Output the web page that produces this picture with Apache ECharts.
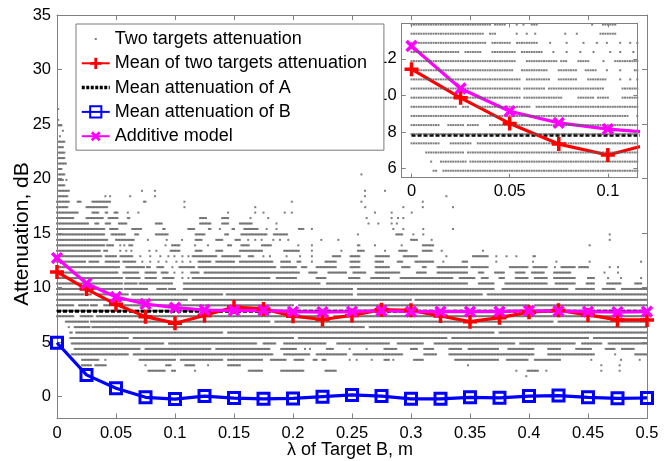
<!DOCTYPE html>
<html><head><meta charset="utf-8">
<script src="https://cdn.jsdelivr.net/npm/echarts@6/dist/echarts.min.js"></script>
<style>html,body{margin:0;padding:0;background:#fff}#c{width:670px;height:461px}</style>
</head><body><div id="c"></div>
<script>
// ---------- data ----------
const lambdaB = [0,0.025,0.05,0.075,0.1,0.125,0.15,0.175,0.2,0.225,0.25,0.275,0.3,0.325,0.35,0.375,0.4,0.425,0.45,0.475,0.5];
const meanTwo = [11.44,9.87,8.47,7.34,6.74,7.45,8.22,8.05,7.38,7.08,7.45,7.98,7.92,7.40,6.88,7.25,7.75,7.92,7.50,7.04,7.04];
const meanAttA = 7.83;
const meanB = [4.95,2.0,0.77,-0.06,-0.22,0.06,-0.13,-0.2,-0.16,0.0,0.16,0.06,-0.2,-0.2,-0.06,-0.1,0.06,0.1,-0.06,-0.15,-0.12];
const additive = [12.71,10.38,9.14,8.50,8.16,7.95,7.90,7.92,7.80,7.76,7.80,7.88,7.80,7.80,7.80,7.80,7.88,7.85,7.80,7.76,7.80];

const xTicks = [0,0.05,0.1,0.15,0.2,0.25,0.3,0.35,0.4,0.45,0.5];
const yTicks = [0,5,10,15,20,25,30,35];
const insetXTicks = [0,0.05,0.1];
const insetYTicks = [6,8,10,12];

// scatter: attenuation levels (dB) and runs of λ [start,end, start,end, ...] where dots appear
const dotLevels = [26.38,25.38,24.88,24.38,23.88,23.38,22.88,22.38,21.88,21.38,20.88,20.38,19.88,19.38,18.88,18.38,17.88,17.38,16.88,16.38,15.88,15.38,14.88,14.38,13.88,13.38,12.88,12.38,11.88,11.38,10.88,10.38,9.88,9.38,8.88,8.38,7.88,7.38,6.88,6.38,5.88,5.38,4.88,4.38,3.88,3.38,2.88,2.38,1.88];
const dotRuns = [
 [0.001,0.001],
 [0.001,0.001],
 [0.001,0.004],
 [0.005,0.005],
 [0.0025,0.0025],
 [0.001,0.007],
 [0.001,0.005],
 [0.001,0.007],
 [0.001,0.007],
 [0.001,0.008],
 [0.001,0.004],
 [0.001,0.007, 0.258,0.258],
 [0.001,0.005, 0.008,0.008],
 [0.001,0.007],
 [0.001,0.011, 0.072,0.072, 0.083,0.083, 0.261,0.261, 0.278,0.278],
 [0.001,0.009, 0.041,0.041, 0.045,0.045, 0.062,0.062, 0.083,0.083, 0.261,0.261, 0.33,0.33],
 [0,0.011, 0.0167,0.021, 0.029,0.045, 0.073,0.075, 0.108,0.108, 0.199,0.199, 0.258,0.258, 0.31,0.31],
 [0,0.0096, 0.025,0.0435, 0.108,0.108, 0.168,0.168, 0.261,0.2624, 0.2935,0.2935, 0.31,0.31, 0.3356,0.3356],
 [0,0.018, 0.029,0.035, 0.041,0.0435, 0.048,0.052, 0.06,0.06, 0.069,0.069, 0.145,0.145, 0.168,0.168, 0.175,0.175, 0.193,0.193, 0.199,0.199, 0.2695,0.2695, 0.2836,0.2836, 0.3006,0.3006],
 [0,0.014, 0.025,0.039, 0.0435,0.052, 0.06,0.062, 0.121,0.127, 0.14,0.145, 0.164,0.164, 0.179,0.179, 0.2624,0.2624, 0.2836,0.2836, 0.289,0.289, 0.2935,0.2935],
 [0,0.0266, 0.032,0.036, 0.041,0.046, 0.052,0.059, 0.083,0.089, 0.121,0.13, 0.14,0.145, 0.155,0.165, 0.186,0.186, 0.264,0.264, 0.2723,0.2723, 0.2836,0.2836, 0.288,0.288],
 [0,0.041, 0.045,0.052, 0.063,0.072, 0.089,0.092, 0.111,0.117, 0.128,0.131, 0.138,0.138, 0.148,0.151, 0.158,0.1706, 0.1777,0.1777, 0.186,0.186, 0.2045,0.209, 0.216,0.216, 0.285,0.285, 0.2935,0.2935, 0.3104,0.3104, 0.3356,0.3356],
 [0,0.041, 0.046,0.058, 0.066,0.069, 0.083,0.094, 0.117,0.125, 0.142,0.145, 0.156,0.1777, 0.1833,0.196, 0.255,0.255, 0.2864,0.2935, 0.302,0.302, 0.3104,0.3104, 0.4684,0.4684],
 [0,0.0435, 0.049,0.066, 0.077,0.077, 0.093,0.093, 0.106,0.106, 0.117,0.123, 0.134,0.14, 0.151,0.156, 0.162,0.162, 0.168,0.168, 0.1734,0.1734, 0.1833,0.1833, 0.189,0.189, 0.196,0.196, 0.224,0.224, 0.2384,0.2384, 0.299,0.305, 0.3175,0.3175, 0.4684,0.4684],
 [0,0.04, 0.0425,0.0485, 0.0536,0.0536, 0.057,0.057, 0.061,0.064, 0.092,0.092, 0.097,0.104, 0.117,0.117, 0.128,0.128, 0.144,0.148, 0.156,0.1636, 0.1734,0.182, 0.2045,0.2045, 0.216,0.216, 0.254,0.257, 0.2695,0.2695, 0.2921,0.2921, 0.309,0.319, 0.4514,0.4514],
 [0,0.0374, 0.04,0.0434, 0.0536,0.0536, 0.0587,0.0587, 0.063,0.063, 0.0783,0.0783, 0.0842,0.0842, 0.096,0.104, 0.117,0.123, 0.134,0.14, 0.154,0.1749, 0.192,0.206, 0.216,0.216, 0.241,0.241, 0.254,0.261, 0.278,0.278, 0.289,0.2963, 0.309,0.3175, 0.326,0.326, 0.361,0.361],
 [0,0.0383, 0.041,0.05, 0.053,0.064, 0.0706,0.0706, 0.079,0.079, 0.0876,0.0876, 0.0944,0.0944, 0.0995,0.0995, 0.1063,0.1063, 0.1114,0.1114, 0.115,0.135, 0.14,0.156, 0.162,0.1664, 0.1749,0.1749, 0.1805,0.1805, 0.1946,0.1946, 0.206,0.206, 0.216,0.216, 0.233,0.24, 0.248,0.257, 0.2695,0.2822, 0.2935,0.305, 0.33,0.33, 0.3525,0.365, 0.3723,0.3723, 0.381,0.381, 0.3893,0.3893, 0.4034,0.406],
 [0,0.0246, 0.027,0.0357, 0.041,0.0536, 0.0553,0.0672, 0.0723,0.0723, 0.079,0.079, 0.086,0.086, 0.0927,0.0927, 0.1012,0.1012, 0.1063,0.1063, 0.113,0.113, 0.12,0.13, 0.135,0.15, 0.155,0.1833, 0.19,0.1975, 0.203,0.2073, 0.216,0.216, 0.227,0.237, 0.248,0.257, 0.2695,0.2766, 0.288,0.2935, 0.3034,0.319, 0.3274,0.3274, 0.3427,0.3483, 0.3723,0.3723, 0.4034,0.4034, 0.4232,0.4232, 0.4514,0.4514, 0.495,0.495],
 [0,0.0536, 0.0587,0.074, 0.0757,0.079, 0.0842,0.091, 0.0978,0.0978, 0.103,0.117, 0.12,0.186, 0.189,0.203, 0.2073,0.2116, 0.22,0.237, 0.248,0.257, 0.2695,0.2822, 0.2921,0.299, 0.309,0.313, 0.322,0.3483, 0.351,0.365, 0.3836,0.399, 0.4034,0.416, 0.422,0.422, 0.4274,0.439, 0.4415,0.45, 0.4684,0.4684, 0.4754,0.4754],
 [0,0.052, 0.0553,0.0698, 0.074,0.0842, 0.0876,0.0944, 0.0995,0.0995, 0.1063,0.1063, 0.113,0.12, 0.124,0.206, 0.213,0.22, 0.23,0.2455, 0.251,0.2624, 0.2695,0.291, 0.305,0.313, 0.322,0.3483, 0.357,0.3624, 0.371,0.3794, 0.388,0.3963, 0.402,0.4133, 0.4203,0.436, 0.464,0.464, 0.4754,0.4754],
 [0,0.0553, 0.0587,0.0706, 0.074,0.0842, 0.0893,0.0995, 0.1063,0.1063, 0.1114,0.1114, 0.115,0.1805, 0.186,0.203, 0.22,0.2285, 0.247,0.257, 0.2653,0.2822, 0.291,0.3356, 0.3412,0.354, 0.3596,0.365, 0.374,0.3794, 0.388,0.399, 0.4048,0.416, 0.4203,0.439, 0.45,0.4556, 0.467,0.467, 0.478,0.478, 0.495,0.495],
 [0,0.055, 0.057,0.068, 0.07,0.0978, 0.1063,0.223, 0.2285,0.3483, 0.357,0.371, 0.3794,0.416, 0.422,0.439, 0.4486,0.4556, 0.4655,0.478, 0.4896,0.495],
 [0,0.055, 0.057,0.077, 0.085,0.0927, 0.095,0.1012, 0.1063,0.25, 0.255,0.371, 0.3766,0.433, 0.439,0.4556, 0.4613,0.473, 0.478,0.5],
 [0,0.0229, 0.0255,0.0297, 0.0331,0.06, 0.063,0.14, 0.143,0.25, 0.254,0.36, 0.364,0.5],
 [0,0.11, 0.114,0.3, 0.303,0.5],
 [0,0.0145, 0.0178,0.0263, 0.028,0.0348, 0.039,0.2, 0.204,0.4, 0.404,0.5],
 [0,0.16, 0.163,0.33, 0.334,0.5],
 [0,0.0145, 0.0195,0.0306, 0.0331,0.23, 0.235,0.5],
 [0.0068,0.0263, 0.028,0.18, 0.184,0.42, 0.424,0.5],
 [0.0094,0.011, 0.0145,0.028, 0.0297,0.26, 0.264,0.5],
 [0.011,0.0125, 0.0161,0.14, 0.144,0.37, 0.374,0.5],
 [0.011,0.06, 0.064,0.2, 0.205,0.33, 0.335,0.45, 0.455,0.5],
 [0.0124,0.09, 0.095,0.1692, 0.1749,0.186, 0.192,0.2285, 0.237,0.2822, 0.288,0.3104, 0.319,0.388, 0.392,0.439, 0.4443,0.4613, 0.467,0.5],
 [0.0138,0.07, 0.075,0.13, 0.135,0.1805, 0.189,0.203, 0.2102,0.2102, 0.2144,0.2144, 0.2285,0.234, 0.248,0.248, 0.2624,0.2624, 0.2766,0.288, 0.299,0.305, 0.3104,0.319, 0.3314,0.3427, 0.3483,0.374, 0.3822,0.4048, 0.416,0.4274, 0.439,0.4528, 0.464,0.473, 0.478,0.4896],
 [0.0124,0.06, 0.065,0.1833, 0.192,0.2144, 0.22,0.2455, 0.251,0.2935, 0.3104,0.322, 0.3314,0.4048, 0.416,0.4556, 0.473,0.473, 0.4896,0.5],
 [0.021,0.035, 0.041,0.041, 0.069,0.1, 0.105,0.14, 0.145,0.1749, 0.1805,0.1946, 0.2003,0.209, 0.2172,0.22, 0.224,0.2285, 0.248,0.248, 0.254,0.254, 0.2667,0.2667, 0.2766,0.2822, 0.285,0.285, 0.302,0.3104, 0.337,0.374, 0.381,0.399, 0.4048,0.4274, 0.4528,0.4528, 0.478,0.478, 0.4938,0.4938],
 [0.021,0.029, 0.032,0.042, 0.075,0.075, 0.092,0.097, 0.108,0.117, 0.128,0.128, 0.145,0.156, 0.3483,0.3483, 0.4613,0.4613, 0.4768,0.4768],
 [0.077,0.092, 0.097,0.1, 0.117,0.117, 0.162,0.1749, 0.189,0.209, 0.227,0.237, 0.3893,0.3893, 0.3977,0.4076, 0.4147,0.4147, 0.4613,0.4613, 0.4768,0.4768],
 [0.3977,0.3977]
];
const dotStep = 0.00125;

// ---------- build tables ----------
function expandRuns(levels, runs, step) {
  const pts = [];
  levels.forEach((v, i) => {
    const r = runs[i];
    for (let k = 0; k < r.length; k += 2) {
      const a = r[k], b = r[k + 1];
      if (a === b) { pts.push([a, v]); continue; }
      const start = Math.ceil(a / step - 1e-9) * step;
      for (let x = start; x <= b + 1e-9; x += step) pts.push([+x.toFixed(5), v]);
    }
  });
  return pts;
}
const dots = expandRuns(dotLevels, dotRuns, dotStep);
const insetRange = {x0: -0.005, x1: 0.115, y0: 5.5, y1: 13.95};
const insetDots = dots.filter(p => p[0] <= insetRange.x1 && p[1] >= insetRange.y0 && p[1] <= insetRange.y1);
const pairs = (ys) => lambdaB.map((x, i) => [x, ys[i]]);
const meanAData = lambdaB.map(x => [x, meanAttA]);

const FONT = '"Liberation Sans", Arial, Helvetica, sans-serif';
const AX = '#808080';
const PLUS = 'path://M4.5 0H7.5V4.5H12V7.5H7.5V12H4.5V7.5H0V4.5H4.5Z';
const DOT_ICON = 'path://M0 0L0 0ZM13 6H15V8H13ZM28 14L28 14Z';
const DOT_COLOR = '#5e5e5e';

const names = ['Two targets attenuation','Mean of two targets attenuation','Mean attenuation of A','Mean attenuation of B','Additive model'];

function axisCommon(extra) {
  return Object.assign({
    type: 'value',
    axisLine: {show: true, onZero: false, lineStyle: {color: AX, width: 1}},
    axisTick: {show: true, inside: true, length: 5, lineStyle: {color: AX}},
    splitLine: {show: false},
    axisLabel: {show: false}
  }, extra);
}
function labels(values, margin) {
  return {show: true, customValues: values, margin: margin, color: '#000', fontSize: 16.5, fontFamily: FONT, formatter: v => String(v)};
}

const redSeries = (xi, yi, z) => ({
  name: names[1], type: 'line', xAxisIndex: xi, yAxisIndex: yi, data: pairs(meanTwo), z: z,
  symbol: PLUS, symbolSize: 14, symbolKeepAspect: true,
  lineStyle: {color: '#ff0000', width: 3.2}, itemStyle: {color: '#ff0000'}, clip: true
});
const magSeries = (xi, yi, z) => ({
  name: names[4], type: 'line', xAxisIndex: xi, yAxisIndex: yi, data: pairs(additive), z: z,
  symbol: PLUS, symbolSize: 14, symbolRotate: 45, symbolKeepAspect: true,
  lineStyle: {color: '#ff00ff', width: 3.2}, itemStyle: {color: '#ff00ff'}, clip: true
});
const blackSeries = (xi, yi, z) => ({
  name: names[2], type: 'line', xAxisIndex: xi, yAxisIndex: yi, data: meanAData, z: z,
  symbol: 'rect', showSymbol: false, lineStyle: {color: '#000', width: 3, type: [4, 2]},
  itemStyle: {color: 'rgba(0,0,0,0)', borderWidth: 0}, clip: true
});

const chart = echarts.init(document.getElementById('c'), null, {renderer: 'canvas'});
chart.setOption({
  animation: false,
  backgroundColor: '#fff',
  grid: [
    {left: 57, top: 15, width: 590, height: 403.5, containLabel: false, outerBoundsMode: 'none'},
    {left: 401.7, top: 23.3, width: 235.6, height: 154.4, containLabel: false, outerBoundsMode: 'none',
     show: true, backgroundColor: '#fff', borderWidth: 0, z: 5}
  ],
  xAxis: [
    axisCommon({gridIndex: 0, position: 'bottom', min: 0, max: 0.5, z: 3,
      axisTick: {show: true, inside: true, length: 5, lineStyle: {color: AX}, customValues: xTicks},
      axisLabel: labels(xTicks, 6)}),
    axisCommon({gridIndex: 0, position: 'top', min: 0, max: 0.5, z: 3,
      axisTick: {show: true, inside: true, length: 5, lineStyle: {color: AX}, customValues: xTicks}}),
    axisCommon({gridIndex: 1, position: 'bottom', min: insetRange.x0, max: insetRange.x1, z: 7,
      axisTick: {show: true, inside: true, length: 4, lineStyle: {color: AX}, customValues: insetXTicks},
      axisLabel: labels(insetXTicks, 5)}),
    axisCommon({gridIndex: 1, position: 'top', min: insetRange.x0, max: insetRange.x1, z: 7,
      axisTick: {show: true, inside: true, length: 4, lineStyle: {color: AX}, customValues: insetXTicks}})
  ],
  yAxis: [
    axisCommon({gridIndex: 0, position: 'left', min: -2, max: 35, z: 3,
      axisTick: {show: true, inside: true, length: 5, lineStyle: {color: AX}, customValues: yTicks},
      axisLabel: labels(yTicks, 6)}),
    axisCommon({gridIndex: 0, position: 'right', min: -2, max: 35, z: 3,
      axisTick: {show: true, inside: true, length: 5, lineStyle: {color: AX}, customValues: yTicks}}),
    axisCommon({gridIndex: 1, position: 'left', min: insetRange.y0, max: insetRange.y1, z: 7,
      axisTick: {show: true, inside: true, length: 4, lineStyle: {color: AX}, customValues: insetYTicks},
      axisLabel: labels(insetYTicks, 5)}),
    axisCommon({gridIndex: 1, position: 'right', min: insetRange.y0, max: insetRange.y1, z: 7,
      axisTick: {show: true, inside: true, length: 4, lineStyle: {color: AX}, customValues: insetYTicks}})
  ],
  legend: {
    orient: 'vertical', left: 76, top: 24,
    padding: [6, 17, 5, 4], itemGap: 6.3, itemWidth: 28, itemHeight: 14,
    backgroundColor: '#fff', borderColor: '#7a7a7a', borderWidth: 1, borderRadius: 0,
    textStyle: {fontSize: 18, fontFamily: FONT, color: '#000'},
    selectedMode: false, z: 8,
    data: [
      {name: names[0], icon: DOT_ICON},
      {name: names[1]},
      {name: names[2], lineStyle: {width: 3.5, type: [3, 1.5], color: '#000'}},
      {name: names[3]},
      {name: names[4]}
    ]
  },
  graphic: [
    {type: 'text', x: 22, y: 234, rotation: Math.PI / 2, z: 10,
     style: {text: 'Attenuation, dB', fontSize: 21, fontFamily: FONT, fill: '#000', align: 'center', verticalAlign: 'middle'}},
    {type: 'text', x: 350, y: 450, z: 10,
     style: {text: 'λ of Target B, m', fontSize: 18, fontFamily: FONT, fill: '#000', align: 'center', verticalAlign: 'middle'}}
  ],
  series: [
    {name: names[0], type: 'scatter', xAxisIndex: 0, yAxisIndex: 0, data: dots, symbol: 'rect', symbolSize: 2,
     itemStyle: {color: DOT_COLOR}, silent: true, z: 2, large: false},
    blackSeries(0, 0, 3),
    {name: names[3], type: 'line', xAxisIndex: 0, yAxisIndex: 0, data: pairs(meanB), z: 3,
     symbol: 'rect', symbolSize: 11,
     lineStyle: {color: '#0000ff', width: 3.2},
     itemStyle: {color: 'rgba(255,255,255,0)', borderColor: '#0000ff', borderWidth: 3}},
    redSeries(0, 0, 4),
    magSeries(0, 0, 4),
    {name: names[0], type: 'scatter', xAxisIndex: 2, yAxisIndex: 2, data: insetDots, symbol: 'rect', symbolSize: 2,
     itemStyle: {color: DOT_COLOR}, silent: true, z: 6},
    blackSeries(2, 2, 6),
    redSeries(2, 2, 6),
    magSeries(2, 2, 6)
  ]
});
</script>
</body></html>
